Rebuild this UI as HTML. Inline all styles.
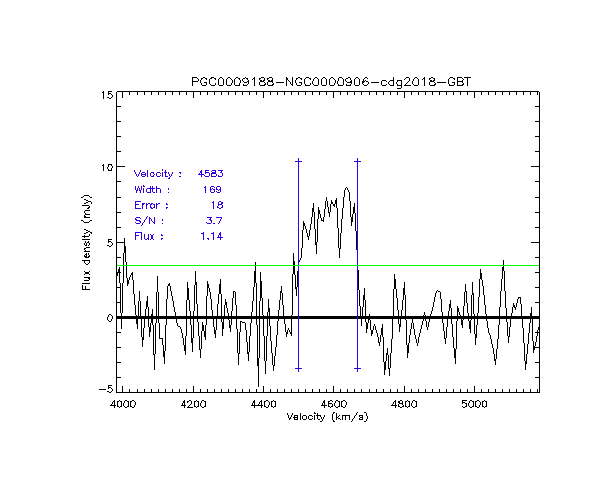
<!DOCTYPE html>
<html><head><meta charset="utf-8"><title>PGC0009188-NGC0000906-cdg2018-GBT</title>
<style>html,body{margin:0;padding:0;background:#fff;}body{width:612px;height:500px;overflow:hidden;font-family:"Liberation Sans",sans-serif;}svg{display:block}.t{font-family:"Liberation Sans",sans-serif;font-size:10px;fill:#000;fill-opacity:0}</style></head><body>
<svg width="612" height="500" viewBox="0 0 612 500" shape-rendering="crispEdges">
<rect x="0" y="0" width="612" height="500" fill="#fff"/>
<!-- axes, tick marks, spectrum, zero line, labels (IDL vector-font strokes) -->
<path d="M82.5 285v4M84.5 211v2M84.5 215v2M84.5 235v1M84.5 237v1M84.5 243v2M84.5 249v1M84.5 255v1M84.5 261v2M85.5 213v1M85.5 241v2M85.5 250v1M85.5 286v3M86.5 243v3M86.5 253v5M88.5 241v1M88.5 253v2M89.5 206v1M89.5 234v2M89.5 243v2M89.5 255v1M89.5 261v2M89.5 278v2M91.5 202v2M91.5 233v1M103.5 91v8M103.5 164v7M107.5 167v2M107.5 317v3M108.5 92v3M108.5 165v2M108.5 169v1M108.5 240v3M108.5 315v2M108.5 386v3M111.5 165v1M111.5 168v2M111.5 319v2M111.5 404v1M112.5 95v2M112.5 166v2M112.5 243v2M112.5 316v3M112.5 389v2M112.5 402v2M114.5 400v8M116.5 92v224M116.5 319v73M117.5 273v3M117.5 401v6M118.5 269v3M119.5 267v16M120.5 283v30M121.5 313v3M121.5 319v10M121.5 401v6M122.5 92v6M122.5 283v30M122.5 386v6M123.5 253v30M123.5 403v3M124.5 238v15M124.5 401v2M125.5 246v16M126.5 262v16M127.5 278v8M128.5 280v4M128.5 401v6M129.5 92v3M129.5 277v3M129.5 389v3M130.5 275v2M130.5 401v6M132.5 272v8M133.5 280v14M134.5 294v11M134.5 405v2M135.5 305v10M135.5 402v3M136.5 315v1M136.5 319v5M137.5 92v3M137.5 319v10M137.5 389v3M138.5 301v15M139.5 291v10M140.5 301v15M141.5 319v18M142.5 337v10M143.5 328v12M144.5 92v3M144.5 319v9M144.5 389v3M145.5 309v7M146.5 301v8M147.5 296v11M148.5 307v9M148.5 319v8M149.5 327v10M150.5 323v9M151.5 92v3M151.5 314v2M151.5 319v4M151.5 389v3M152.5 309v7M152.5 319v6M153.5 325v30M154.5 354v16M155.5 323v31M156.5 292v24M156.5 319v4M157.5 276v16M158.5 92v3M158.5 292v24M158.5 319v4M158.5 389v3M159.5 323v16M162.5 338v7M163.5 345v12M164.5 351v13M165.5 92v3M165.5 325v26M165.5 389v3M166.5 299v17M166.5 319v6M167.5 286v13M169.5 283v3M170.5 286v5M171.5 291v5M172.5 92v3M172.5 296v5M172.5 389v3M173.5 301v6M174.5 307v5M175.5 312v4M176.5 319v4M177.5 323v3M179.5 92v3M179.5 389v3M180.5 327v2M181.5 329v4M182.5 333v5M182.5 403v2M183.5 338v7M184.5 345v6M184.5 400v8M185.5 336v19M186.5 92v3M186.5 300v16M186.5 319v17M186.5 389v3M187.5 282v18M187.5 402v1M188.5 288v12M188.5 406v1M189.5 300v11M190.5 311v5M190.5 319v6M191.5 325v18M191.5 401v3M192.5 77v9M192.5 338v14M193.5 92v6M193.5 311v5M193.5 319v19M193.5 386v6M194.5 285v26M194.5 401v6M195.5 271v14M196.5 282v22M197.5 304v12M197.5 319v3M198.5 79v2M198.5 322v14M198.5 401v6M199.5 336v14M200.5 80v3M200.5 92v3M200.5 349v9M200.5 389v3M200.5 403v3M201.5 79v1M201.5 83v2M201.5 331v18M201.5 401v2M202.5 322v9M203.5 325v6M204.5 331v6M205.5 325v15M205.5 401v6M206.5 79v1M206.5 83v2M206.5 296v20M206.5 319v6M207.5 92v3M207.5 281v15M207.5 389v3M208.5 284v4M209.5 79v5M209.5 288v4M210.5 292v7M211.5 299v11M212.5 310v6M213.5 319v8M214.5 92v3M214.5 327v7M214.5 389v3M215.5 79v1M215.5 83v2M215.5 330v8M216.5 319v11M217.5 304v12M218.5 79v6M218.5 294v10M219.5 284v10M220.5 279v15M221.5 92v3M221.5 294v22M221.5 319v3M221.5 389v3M222.5 322v14M223.5 79v6M223.5 319v10M224.5 305v11M225.5 299v6M226.5 79v6M226.5 302v6M227.5 308v5M228.5 92v3M228.5 313v3M228.5 319v1M228.5 389v3M229.5 320v8M230.5 325v7M231.5 83v2M231.5 311v5M231.5 319v6M232.5 80v3M232.5 298v13M233.5 291v7M234.5 79v6M235.5 92v3M235.5 292v13M235.5 389v3M236.5 305v11M236.5 319v10M237.5 329v24M238.5 353v12M239.5 79v1M239.5 83v2M239.5 332v22M240.5 80v3M240.5 321v11M242.5 79v2M242.5 92v3M242.5 389v3M243.5 84v1M245.5 323v7M246.5 330v12M247.5 79v1M247.5 342v12M248.5 80v4M248.5 352v9M249.5 92v3M249.5 336v16M249.5 389v3M250.5 323v13M251.5 312v4M251.5 319v4M252.5 301v11M252.5 403v2M253.5 287v14M254.5 77v9M254.5 271v16M254.5 400v5M254.5 406v2M255.5 262v21M256.5 92v3M256.5 283v33M256.5 319v6M256.5 389v3M257.5 325v41M258.5 358v29M258.5 404v1M259.5 79v1M259.5 82v3M259.5 301v15M259.5 319v39M259.5 402v2M260.5 272v29M261.5 281v17M261.5 400v5M261.5 406v2M262.5 298v17M263.5 92v6M263.5 315v1M263.5 319v17M263.5 386v6M264.5 78v3M264.5 336v25M264.5 401v6M265.5 83v1M265.5 361v13M266.5 336v25M267.5 79v1M267.5 82v3M267.5 312v4M267.5 319v17M268.5 299v13M268.5 405v2M269.5 308v8M269.5 319v7M269.5 402v3M270.5 92v3M270.5 326v15M270.5 389v3M271.5 341v12M271.5 401v6M272.5 78v3M272.5 82v1M272.5 353v12M273.5 83v1M273.5 365v6M274.5 356v10M275.5 347v9M275.5 401v6M276.5 335v12M277.5 92v3M277.5 321v14M277.5 389v3M278.5 310v6M278.5 319v2M279.5 300v10M280.5 291v9M281.5 286v7M282.5 293v12M283.5 305v11M284.5 92v3M284.5 319v5M284.5 389v3M285.5 324v8M286.5 77v9M286.5 332v5M287.5 330v4M287.5 413v2M288.5 328v2M288.5 415v3M289.5 330v2M289.5 419v1M290.5 82v2M290.5 417v1M291.5 92v3M291.5 315v1M291.5 319v17M291.5 389v3M291.5 415v2M292.5 77v9M292.5 274v41M292.5 413v2M293.5 253v21M294.5 261v14M294.5 415v2M294.5 418v2M295.5 80v3M295.5 275v14M296.5 79v1M296.5 83v2M296.5 287v9M297.5 271v16M297.5 415v2M297.5 418v2M298.5 92v3M298.5 262v9M298.5 389v3M299.5 260v2M300.5 258v2M300.5 413v7M301.5 79v1M301.5 83v2M301.5 248v10M302.5 230v18M302.5 416v3M303.5 221v9M304.5 79v5M304.5 223v3M305.5 84v1M305.5 92v3M305.5 226v3M305.5 389v3M306.5 229v4M306.5 416v3M307.5 233v4M308.5 236v4M308.5 416v3M309.5 230v6M310.5 79v1M310.5 83v2M310.5 224v6M311.5 217v7M312.5 81v3M312.5 92v3M312.5 208v9M312.5 389v3M313.5 79v2M313.5 203v9M314.5 212v17M314.5 412v1M314.5 415v5M315.5 229v16M316.5 242v12M317.5 219v23M317.5 413v6M318.5 79v6M318.5 207v12M319.5 92v3M319.5 210v4M319.5 389v3M320.5 214v4M320.5 416v1M321.5 79v6M321.5 218v2M321.5 417v2M322.5 403v2M322.5 419v2M323.5 217v5M323.5 417v2M324.5 209v8M324.5 400v8M324.5 415v2M325.5 201v8M326.5 79v6M326.5 92v3M326.5 197v4M326.5 389v3M327.5 201v6M328.5 207v6M328.5 401v6M329.5 79v6M329.5 212v5M330.5 204v8M331.5 200v4M332.5 404v3M332.5 414v6M333.5 92v6M333.5 386v6M333.5 413v1M333.5 420v1M334.5 83v2M334.5 204v3M334.5 403v3M335.5 80v3M335.5 200v4M335.5 401v2M336.5 198v10M336.5 413v7M337.5 81v3M337.5 208v20M338.5 78v3M338.5 84v1M338.5 228v20M339.5 248v10M339.5 401v6M340.5 92v3M340.5 233v16M340.5 389v3M341.5 219v14M341.5 401v6M342.5 208v11M342.5 416v4M343.5 79v6M343.5 197v11M344.5 190v7M345.5 79v2M345.5 188v2M345.5 405v2M345.5 416v4M346.5 84v1M346.5 402v3M347.5 92v3M347.5 188v2M347.5 389v3M348.5 190v2M349.5 192v9M349.5 416v4M350.5 78v2M350.5 84v1M350.5 201v16M351.5 80v2M351.5 83v1M351.5 217v9M352.5 214v8M352.5 419v2M353.5 207v7M354.5 79v6M354.5 92v3M354.5 203v10M354.5 389v3M354.5 416v2M355.5 213v18M356.5 231v19M356.5 413v2M357.5 250v20M358.5 270v20M359.5 79v6M359.5 290v16M359.5 416v1M359.5 418v1M360.5 306v10M361.5 92v3M361.5 319v7M361.5 389v3M362.5 82v2M362.5 307v9M362.5 415v5M363.5 79v4M363.5 295v12M364.5 288v12M365.5 300v16M365.5 319v3M366.5 322v11M366.5 413v3M366.5 419v2M367.5 323v6M367.5 416v3M368.5 82v2M368.5 319v4M369.5 92v3M369.5 314v2M369.5 319v1M369.5 389v3M370.5 320v10M371.5 330v6M372.5 330v4M373.5 326v4M374.5 324v2M375.5 326v4M376.5 92v3M376.5 330v3M376.5 389v3M377.5 333v4M378.5 337v6M379.5 342v4M380.5 335v7M381.5 81v4M381.5 328v7M382.5 324v13M383.5 92v3M383.5 337v25M383.5 389v3M384.5 362v13M385.5 361v9M386.5 353v8M387.5 348v7M388.5 82v2M388.5 355v14M389.5 368v8M390.5 92v3M390.5 353v15M390.5 389v3M391.5 339v14M392.5 319v20M392.5 404v1M393.5 77v9M393.5 289v27M393.5 402v2M394.5 274v15M395.5 279v10M395.5 400v8M396.5 82v2M396.5 289v9M397.5 81v1M397.5 84v1M397.5 92v3M397.5 298v12M397.5 389v3M398.5 310v6M398.5 319v5M398.5 404v3M399.5 324v8M399.5 401v2M400.5 319v8M401.5 80v8M401.5 310v6M402.5 300v10M402.5 401v2M402.5 404v1M403.5 288v12M403.5 405v1M404.5 92v6M404.5 282v13M404.5 386v6M405.5 84v1M405.5 295v21M405.5 319v1M405.5 401v6M406.5 320v25M407.5 345v13M408.5 343v10M409.5 78v3M409.5 335v8M409.5 401v6M410.5 329v6M411.5 92v3M411.5 323v6M411.5 389v3M411.5 403v3M412.5 81v3M412.5 319v4M412.5 401v2M413.5 79v2M413.5 323v6M414.5 329v6M415.5 335v4M416.5 339v4M416.5 401v6M417.5 343v3M418.5 79v6M418.5 92v3M418.5 337v6M418.5 389v3M419.5 333v4M420.5 329v4M421.5 325v4M422.5 321v4M423.5 315v1M423.5 319v2M424.5 77v9M424.5 312v3M425.5 92v3M425.5 315v1M425.5 319v2M425.5 389v3M426.5 321v6M427.5 327v3M428.5 322v5M429.5 79v1M429.5 82v3M429.5 319v3M430.5 314v2M431.5 311v3M432.5 92v3M432.5 307v4M432.5 389v3M433.5 302v5M434.5 78v3M434.5 297v5M435.5 83v1M435.5 293v4M436.5 291v2M439.5 92v3M439.5 389v3M440.5 292v7M441.5 299v13M442.5 312v4M442.5 319v4M443.5 323v8M444.5 331v8M445.5 338v6M446.5 92v3M446.5 327v11M446.5 389v3M447.5 319v8M448.5 79v5M448.5 311v5M449.5 84v1M449.5 304v7M450.5 300v8M451.5 308v8M451.5 319v5M452.5 324v13M453.5 92v3M453.5 337v11M453.5 389v3M454.5 79v1M454.5 83v2M454.5 348v10M455.5 349v15M456.5 321v28M457.5 77v9M457.5 306v10M457.5 319v2M458.5 308v4M459.5 312v3M460.5 92v3M460.5 315v1M460.5 389v3M461.5 319v6M462.5 80v1M462.5 82v1M462.5 320v8M462.5 401v3M463.5 83v1M463.5 306v10M463.5 319v1M464.5 292v14M465.5 284v8M466.5 291v12M466.5 403v4M467.5 77v9M467.5 92v3M467.5 303v10M467.5 389v3M468.5 313v3M468.5 319v2M468.5 403v3M469.5 321v8M469.5 401v2M470.5 320v13M471.5 295v21M471.5 319v1M472.5 282v13M473.5 293v21M473.5 401v6M474.5 92v6M474.5 314v2M474.5 319v15M474.5 386v6M475.5 334v11M475.5 401v6M476.5 325v13M477.5 313v3M477.5 319v6M478.5 297v16M479.5 279v18M479.5 405v2M480.5 269v10M480.5 402v3M481.5 92v3M481.5 273v7M481.5 389v3M482.5 280v6M482.5 401v6M483.5 286v9M484.5 295v10M485.5 305v9M486.5 314v2M486.5 319v2M486.5 401v6M487.5 321v7M488.5 92v3M488.5 328v5M488.5 389v3M489.5 333v2M490.5 335v4M491.5 339v5M492.5 344v4M493.5 348v6M494.5 354v7M495.5 92v3M495.5 359v6M495.5 389v3M496.5 349v10M497.5 339v10M498.5 325v14M499.5 307v9M499.5 319v6M500.5 291v16M501.5 279v12M502.5 92v3M502.5 267v12M502.5 389v3M503.5 260v11M504.5 271v20M505.5 291v17M506.5 308v8M506.5 319v3M507.5 322v14M508.5 336v7M509.5 92v3M509.5 327v10M509.5 389v3M510.5 319v8M511.5 313v3M512.5 307v6M513.5 303v4M514.5 305v3M515.5 307v3M516.5 92v3M516.5 303v4M516.5 389v3M517.5 299v4M518.5 298v1M520.5 297v7M521.5 304v12M522.5 319v9M523.5 92v3M523.5 328v15M523.5 389v3M524.5 343v18M525.5 361v9M526.5 354v10M527.5 344v10M528.5 333v11M529.5 323v10M530.5 92v3M530.5 313v3M530.5 319v4M530.5 389v3M531.5 307v9M532.5 319v22M533.5 341v12M534.5 346v1M534.5 348v2M535.5 342v4M536.5 336v6M537.5 92v3M537.5 330v6M537.5 389v3M538.5 327v3M539.5 92v224M539.5 319v73M193 77.5h4M203 77.5h2M211 77.5h3M220 77.5h2M228 77.5h2M236 77.5h2M245 77.5h1M261 77.5h3M269 77.5h3M298 77.5h2M306 77.5h3M315 77.5h2M323 77.5h2M331 77.5h2M339 77.5h3M348 77.5h2M356 77.5h2M365 77.5h2M406 77.5h3M415 77.5h2M431 77.5h2M450 77.5h3M458 77.5h4M464 77.5h3M468 77.5h3M197 78.5h1M201 78.5h2M205 78.5h2M210 78.5h2M214 78.5h2M219 78.5h1M222 78.5h1M227 78.5h1M230 78.5h1M235 78.5h1M238 78.5h2M243 78.5h2M246 78.5h2M253 78.5h1M259 78.5h2M267 78.5h2M287 78.5h1M296 78.5h2M300 78.5h2M305 78.5h1M309 78.5h2M314 78.5h1M317 78.5h1M322 78.5h1M325 78.5h1M330 78.5h1M333 78.5h1M342 78.5h1M346 78.5h2M355 78.5h1M358 78.5h1M364 78.5h1M367 78.5h1M405 78.5h1M414 78.5h1M417 78.5h1M423 78.5h1M429 78.5h2M433 78.5h1M449 78.5h1M453 78.5h2M462 78.5h1M231 79.5h1M252 79.5h1M287 79.5h1M334 79.5h1M404 79.5h1M422 79.5h1M463 79.5h1M260 80.5h2M263 80.5h1M268 80.5h2M271 80.5h1M288 80.5h1M365 80.5h1M382 80.5h4M390 80.5h3M397 80.5h4M430 80.5h2M433 80.5h1M193 81.5h5M243 81.5h1M247 81.5h1M260 81.5h4M268 81.5h5M289 81.5h1M346 81.5h1M350 81.5h1M362 81.5h1M364 81.5h1M366 81.5h2M386 81.5h1M389 81.5h1M408 81.5h1M430 81.5h4M458 81.5h5M204 82.5h3M244 82.5h3M264 82.5h1M276 82.5h8M299 82.5h3M347 82.5h5M371 82.5h8M407 82.5h1M434 82.5h1M437 82.5h9M452 82.5h3M406 83.5h1M210 84.5h1M247 84.5h1M264 84.5h2M272 84.5h2M291 84.5h1M313 84.5h1M363 84.5h1M367 84.5h1M386 84.5h1M389 84.5h1M413 84.5h1M434 84.5h2M462 84.5h2M202 85.5h4M211 85.5h4M219 85.5h4M227 85.5h4M235 85.5h5M243 85.5h4M260 85.5h5M268 85.5h5M297 85.5h4M305 85.5h5M314 85.5h4M322 85.5h4M330 85.5h4M338 85.5h5M346 85.5h5M355 85.5h4M364 85.5h3M382 85.5h4M390 85.5h3M397 85.5h4M404 85.5h7M414 85.5h4M430 85.5h5M449 85.5h5M458 85.5h5M397 88.5h4M108 91.5h4M117 91.5h422M102 92.5h1M109 93.5h2M111 94.5h1M107 97.5h2M111 97.5h1M109 98.5h2M117 106.5h4M535 106.5h4M117 121.5h4M535 121.5h4M117 136.5h4M535 136.5h4M117 151.5h4M535 151.5h4M108 164.5h4M102 165.5h1M117 166.5h8M531 166.5h8M108 170.5h4M117 181.5h4M535 181.5h4M346 187.5h1M84 195.5h5M83 196.5h1M89 196.5h1M81 197.5h2M90 197.5h2M117 197.5h4M535 197.5h4M84 199.5h2M86 200.5h2M88 201.5h3M86 202.5h2M332 202.5h1M84 203.5h2M332 203.5h1M333 204.5h1M82 205.5h7M333 205.5h1M88 207.5h2M87 208.5h2M85 210.5h5M117 212.5h4M535 212.5h4M85 214.5h5M85 216.5h1M84 217.5h6M81 220.5h2M90 220.5h2M321 220.5h2M83 221.5h1M89 221.5h1M84 222.5h5M117 227.5h4M535 227.5h4M84 229.5h2M86 230.5h2M88 231.5h2M86 232.5h2M90 232.5h2M84 233.5h2M82 236.5h7M82 239.5h8M108 239.5h4M109 241.5h2M87 242.5h2M111 242.5h1M117 242.5h7M531 242.5h8M85 245.5h1M88 245.5h1M107 245.5h2M111 245.5h1M109 246.5h2M86 247.5h4M84 248.5h2M84 251.5h6M85 254.5h1M84 256.5h2M88 256.5h2M85 257.5h1M87 257.5h2M117 257.5h4M535 257.5h4M82 260.5h8M85 263.5h1M88 263.5h1M86 264.5h2M84 271.5h1M89 271.5h1M85 272.5h4M117 272.5h2M120 272.5h1M535 272.5h4M85 273.5h4M131 273.5h1M84 274.5h1M89 274.5h1M131 274.5h1M84 277.5h6M88 278.5h1M84 280.5h5M82 283.5h8M168 284.5h1M168 285.5h1M117 287.5h3M535 287.5h4M82 289.5h8M437 290.5h1M234 291.5h1M438 291.5h2M518 297.5h2M117 302.5h3M535 302.5h4M109 314.5h2M111 315.5h1M116 316.5h424M116 317.5h424M116 318.5h424M108 320.5h1M109 321.5h2M241 321.5h1M242 322.5h3M178 326.5h2M117 332.5h4M290 332.5h1M535 332.5h2M538 332.5h1M290 333.5h1M160 338.5h2M117 347.5h4M534 347.5h5M117 362.5h4M535 362.5h4M117 377.5h4M535 377.5h4M108 385.5h4M109 387.5h2M111 388.5h1M99 389.5h7M107 391.5h2M111 391.5h1M109 392.5h2M116 392.5h424M119 400.5h1M125 400.5h2M132 400.5h2M189 400.5h2M196 400.5h1M202 400.5h2M266 400.5h2M273 400.5h1M330 400.5h2M336 400.5h2M343 400.5h2M400 400.5h2M407 400.5h1M413 400.5h2M462 400.5h5M470 400.5h2M477 400.5h2M484 400.5h1M113 401.5h1M118 401.5h1M120 401.5h1M127 401.5h1M131 401.5h1M134 401.5h1M183 401.5h1M187 401.5h2M195 401.5h1M197 401.5h1M204 401.5h1M253 401.5h1M260 401.5h1M265 401.5h1M268 401.5h1M272 401.5h1M274 401.5h1M323 401.5h1M329 401.5h1M332 401.5h1M338 401.5h1M342 401.5h1M345 401.5h1M394 401.5h1M398 401.5h1M406 401.5h1M408 401.5h1M415 401.5h1M472 401.5h1M476 401.5h1M479 401.5h1M483 401.5h1M485 401.5h1M183 402.5h1M253 402.5h1M323 402.5h1M398 402.5h1M463 402.5h2M329 403.5h3M399 403.5h4M465 403.5h1M190 404.5h1M110 405.5h4M115 405.5h1M181 405.5h3M185 405.5h1M189 405.5h1M251 405.5h12M321 405.5h3M325 405.5h2M391 405.5h4M396 405.5h1M118 406.5h1M120 406.5h1M124 406.5h1M127 406.5h1M131 406.5h1M195 406.5h1M197 406.5h1M201 406.5h1M204 406.5h1M265 406.5h1M272 406.5h1M274 406.5h1M329 406.5h1M331 406.5h1M335 406.5h1M338 406.5h1M342 406.5h1M399 406.5h1M402 406.5h2M406 406.5h1M408 406.5h1M412 406.5h1M415 406.5h1M462 406.5h1M465 406.5h1M469 406.5h1M472 406.5h1M476 406.5h1M483 406.5h1M485 406.5h1M119 407.5h1M125 407.5h2M132 407.5h2M187 407.5h6M196 407.5h1M202 407.5h2M266 407.5h2M273 407.5h1M330 407.5h1M336 407.5h2M343 407.5h2M400 407.5h2M407 407.5h1M413 407.5h2M463 407.5h2M470 407.5h2M477 407.5h2M484 407.5h1M333 412.5h2M357 412.5h1M364 412.5h2M314 413.5h2M295 415.5h2M303 415.5h3M309 415.5h3M316 415.5h1M318 415.5h3M339 415.5h1M342 415.5h8M355 415.5h1M359 415.5h3M312 416.5h1M338 416.5h1M293 417.5h5M337 417.5h1M360 417.5h2M289 418.5h2M312 418.5h1M338 418.5h2M353 418.5h1M295 419.5h2M303 419.5h3M309 419.5h3M318 419.5h2M340 419.5h1M359 419.5h3M320 421.5h2M333 421.5h2M351 421.5h1M364 421.5h2" fill="none" stroke="#000" stroke-width="1"/>
<!-- line-edge markers and fit annotation -->
<path d="M134.5 170v2M135.5 172v2M135.5 186v4M135.5 201v8M135.5 218v1M135.5 232v8M136.5 174v2M136.5 190v3M137.5 188v3M138.5 174v2M138.5 186v2M139.5 172v2M139.5 188v3M140.5 170v2M140.5 190v3M140.5 222v1M141.5 173v1M141.5 175v1M141.5 186v4M141.5 232v8M142.5 203v6M142.5 223v2M143.5 185v1M143.5 188v5M144.5 220v2M144.5 234v5M145.5 173v1M145.5 175v1M146.5 189v3M146.5 203v6M146.5 217v2M147.5 170v7M148.5 234v6M149.5 217v7M150.5 173v3M150.5 186v2M150.5 189v4M150.5 204v4M151.5 219v2M151.5 235v4M152.5 186v2M152.5 189v3M152.5 235v4M153.5 173v1M153.5 175v1M154.5 204v4M154.5 217v7M156.5 173v3M156.5 186v7M156.5 203v6M160.5 189v4M161.5 234v1M161.5 239v1M162.5 169v2M162.5 172v5M162.5 219v2M165.5 170v7M166.5 203v1M166.5 208v1M168.5 172v2M168.5 188v2M169.5 174v2M169.5 177v1M171.5 174v2M172.5 172v2M180.5 173v1M199.5 173v1M201.5 170v7M203.5 232v8M205.5 171v1M205.5 173v1M205.5 186v7M208.5 239v1M209.5 173v3M210.5 187v5M210.5 218v3M211.5 174v2M211.5 220v3M213.5 201v8M213.5 232v8M214.5 189v3M215.5 171v1M216.5 174v2M216.5 187v3M217.5 206v1M218.5 175v1M218.5 202v2M218.5 205v1M218.5 235v2M219.5 221v2M220.5 187v5M220.5 219v2M220.5 232v8M221.5 171v2M221.5 202v2M221.5 218v1M222.5 173v3M222.5 205v3M298.5 158v214M357.5 158v214M295 161.5h3M299 161.5h3M354 161.5h3M358 161.5h3M205 170.5h4M212 170.5h4M218 170.5h5M200 171.5h1M211 171.5h1M142 172.5h3M151 172.5h3M157 172.5h3M164 172.5h1M166 172.5h1M179 172.5h2M200 172.5h1M205 172.5h4M212 172.5h4M220 172.5h1M160 173.5h1M211 173.5h5M141 174.5h5M154 174.5h1M198 174.5h3M202 174.5h2M160 175.5h1M204 175.5h1M137 176.5h1M142 176.5h3M151 176.5h3M157 176.5h3M166 176.5h2M170 176.5h1M179 176.5h2M205 176.5h4M211 176.5h5M218 176.5h4M168 178.5h2M143 186.5h2M211 186.5h3M217 186.5h3M204 187.5h1M214 187.5h1M147 188.5h8M157 188.5h3M212 188.5h1M211 189.5h1M213 189.5h1M217 189.5h1M219 189.5h1M218 190.5h1M216 191.5h1M147 192.5h3M153 192.5h2M168 192.5h1M211 192.5h3M217 192.5h3M136 201.5h5M219 201.5h2M212 202.5h1M222 202.5h1M143 203.5h2M148 203.5h2M151 203.5h2M158 203.5h2M222 203.5h1M136 204.5h3M143 204.5h1M147 204.5h1M151 204.5h1M153 204.5h1M157 204.5h1M166 204.5h2M218 204.5h4M151 207.5h1M153 207.5h1M166 207.5h2M217 207.5h2M221 207.5h1M136 208.5h5M151 208.5h2M219 208.5h2M147 216.5h1M136 217.5h4M207 217.5h5M216 217.5h6M140 218.5h1M150 218.5h1M135 219.5h2M145 219.5h1M209 219.5h1M136 220.5h4M139 221.5h2M152 221.5h1M135 222.5h1M143 222.5h1M153 222.5h1M206 222.5h1M136 223.5h4M162 223.5h1M207 223.5h4M213 223.5h2M218 223.5h1M141 225.5h1M136 232.5h5M201 233.5h2M211 233.5h2M219 233.5h1M150 234.5h1M153 234.5h1M219 234.5h1M136 235.5h3M161 235.5h2M217 237.5h3M221 237.5h2M147 238.5h1M161 238.5h2M207 238.5h2M145 239.5h2M150 239.5h1M153 239.5h1M295 368.5h3M299 368.5h3M354 368.5h3M358 368.5h3" fill="none" stroke="#3300e6" stroke-width="1"/>
<!-- 3-sigma level -->
<path d="M117 265.5H539" fill="none" stroke="#00ff00" stroke-width="1"/>
<text class="t" x="328.0" y="86.0" text-anchor="middle" font-size="12">PGC0009188-NGC0000906-cdg2018-GBT</text>
<text class="t" x="123.0" y="407.0" text-anchor="middle">4000</text>
<text class="t" x="193.2" y="407.0" text-anchor="middle">4200</text>
<text class="t" x="263.6" y="407.0" text-anchor="middle">4400</text>
<text class="t" x="333.8" y="407.0" text-anchor="middle">4600</text>
<text class="t" x="404.1" y="407.0" text-anchor="middle">4800</text>
<text class="t" x="474.4" y="407.0" text-anchor="middle">5000</text>
<text class="t" x="328.0" y="420.0" text-anchor="middle">Velocity (km/s)</text>
<text class="t" x="89.0" y="242.0" text-anchor="middle" transform="rotate(-90 89 242)">Flux density (mJy)</text>
<text class="t" x="114.0" y="98.2" text-anchor="end">15</text>
<text class="t" x="114.0" y="170.8" text-anchor="end">10</text>
<text class="t" x="114.0" y="246.2" text-anchor="end">5</text>
<text class="t" x="114.0" y="321.2" text-anchor="end">0</text>
<text class="t" x="114.0" y="392.2" text-anchor="end">-5</text>
<text class="t" x="134.0" y="176.8" >Velocity :</text>
<text class="t" x="197.4" y="176.8" >4583</text>
<text class="t" x="134.0" y="192.8" >Width :</text>
<text class="t" x="202.2" y="192.8" >169</text>
<text class="t" x="134.0" y="208.2" >Error :</text>
<text class="t" x="210.3" y="208.2" >18</text>
<text class="t" x="134.0" y="223.8" >S/N :</text>
<text class="t" x="205.9" y="223.8" >3.7</text>
<text class="t" x="134.0" y="239.2" >Flux :</text>
<text class="t" x="200.0" y="239.2" >1.14</text>
</svg></body></html>
